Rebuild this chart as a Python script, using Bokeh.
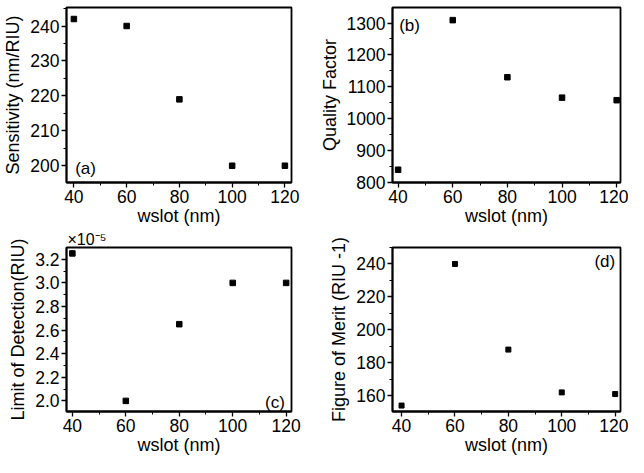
from bokeh.plotting import figure
from bokeh.models import Label, SingleIntervalTicker, Range1d, NumeralTickFormatter, Title
from bokeh.layouts import gridplot
from bokeh.embed import file_html
from bokeh.resources import INLINE

# ---- data ----
wslot = [40, 60, 80, 100, 120]
sensitivity = [242, 240, 219, 200, 200]
quality = [840, 1309, 1130, 1066, 1058]
lod_e5 = [3.25, 2.0, 2.65, 3.0, 3.0]          # x 10^-5 RIU
fom = [154, 240, 188, 162, 161]

FONT = "Liberation Sans"
TICK_SIZE = "17.5px"
TITLE_SIZE = "18px"
TAG_SIZE = "17px"


def make(w, h, bl, br, bt, bb, xr, yr, yint, ylabel, fmt=None):
    p = figure(width=w, height=h, x_range=Range1d(*xr), y_range=Range1d(*yr),
               output_backend="svg", toolbar_location=None,
               min_border_left=bl, min_border_right=br,
               min_border_top=bt, min_border_bottom=bb)
    p.grid.visible = False
    p.outline_line_color = "black"
    p.outline_line_width = 1.8
    p.outline_line_alpha = 1.0
    p.xaxis.ticker = SingleIntervalTicker(interval=20, num_minor_ticks=2)
    p.yaxis.ticker = SingleIntervalTicker(interval=yint, num_minor_ticks=2)
    if fmt:
        p.yaxis.formatter = NumeralTickFormatter(format=fmt)
    for ax in (p.xaxis, p.yaxis):
        ax.axis_line_color = "black"
        ax.axis_line_width = 1.8
        ax.major_tick_line_color = "black"
        ax.minor_tick_line_color = "black"
        ax.major_tick_line_width = 1.3
        ax.minor_tick_line_width = 1.0
        ax.major_tick_out = 5
        ax.major_tick_in = 0
        ax.minor_tick_out = 3
        ax.minor_tick_in = 0
        ax.major_label_text_font = FONT
        ax.major_label_text_font_size = TICK_SIZE
        ax.major_label_text_color = "black"
        ax.axis_label_text_font = FONT
        ax.axis_label_text_font_size = TITLE_SIZE
        ax.axis_label_text_font_style = "normal"
        ax.axis_label_text_color = "black"
    p.xaxis.major_label_standoff = 2
    p.yaxis.major_label_standoff = 2
    p.yaxis.axis_label = ylabel
    p.yaxis.axis_label_standoff = 4
    p.xaxis.axis_label = "wslot (nm)"
    p.xaxis.axis_label_standoff = 0
    return p


def tag(p, x, y, text, align="left"):
    p.add_layout(Label(x=x, y=y, text=text, text_align=align, text_baseline="middle",
                       text_font=FONT, text_font_size=TAG_SIZE, text_color="black"))


# (a)
pa = make(316, 228, 60, 19, 7, 46, (37.2, 122.5), (195.2, 245.3), 10,
          "Sensitivity (nm/RIU)")
pa.scatter(wslot, sensitivity, marker="square", size=5.5, color="black")
tag(pa, 40.5, 199.2, "(a)")

# (b)
pb = make(312, 228, 71, 8, 7, 44, (37.95, 121.4), (800, 1348.6), 100,
          "Quality Factor")
pb.scatter(wslot, quality, marker="square", size=5.5, color="black")
tag(pb, 40.4, 1293, "(b)")

# (c)
pc = make(316, 229, 56, 25, 17, 44, (37.8, 122.0), (1.91, 3.30), 0.2,
          "Limit of Detection(RIU)", fmt="0.0")
pc.add_layout(Title(text="×10⁻⁵", align="left", offset=1, standoff=0,
                    text_font=FONT, text_font_size="16px", text_font_style="normal",
                    text_color="black"), "above")
pc.scatter(wslot, lod_e5, marker="square", size=5.5, color="black")
tag(pc, 119.5, 1.99, "(c)", align="right")

# (d)
pd_ = make(312, 229, 72, 2, 17, 44, (36.6, 122.0), (150.4, 250.0), 20,
           "Figure of Merit (RIU -1)")
pd_.scatter(wslot, fom, marker="square", size=5, color="black")
tag(pd_, 120.0, 241.5, "(d)", align="right")

grid = gridplot([[pa, pb], [pc, pd_]], toolbar_location=None)

open("out.html", "w").write(file_html(grid, INLINE))
